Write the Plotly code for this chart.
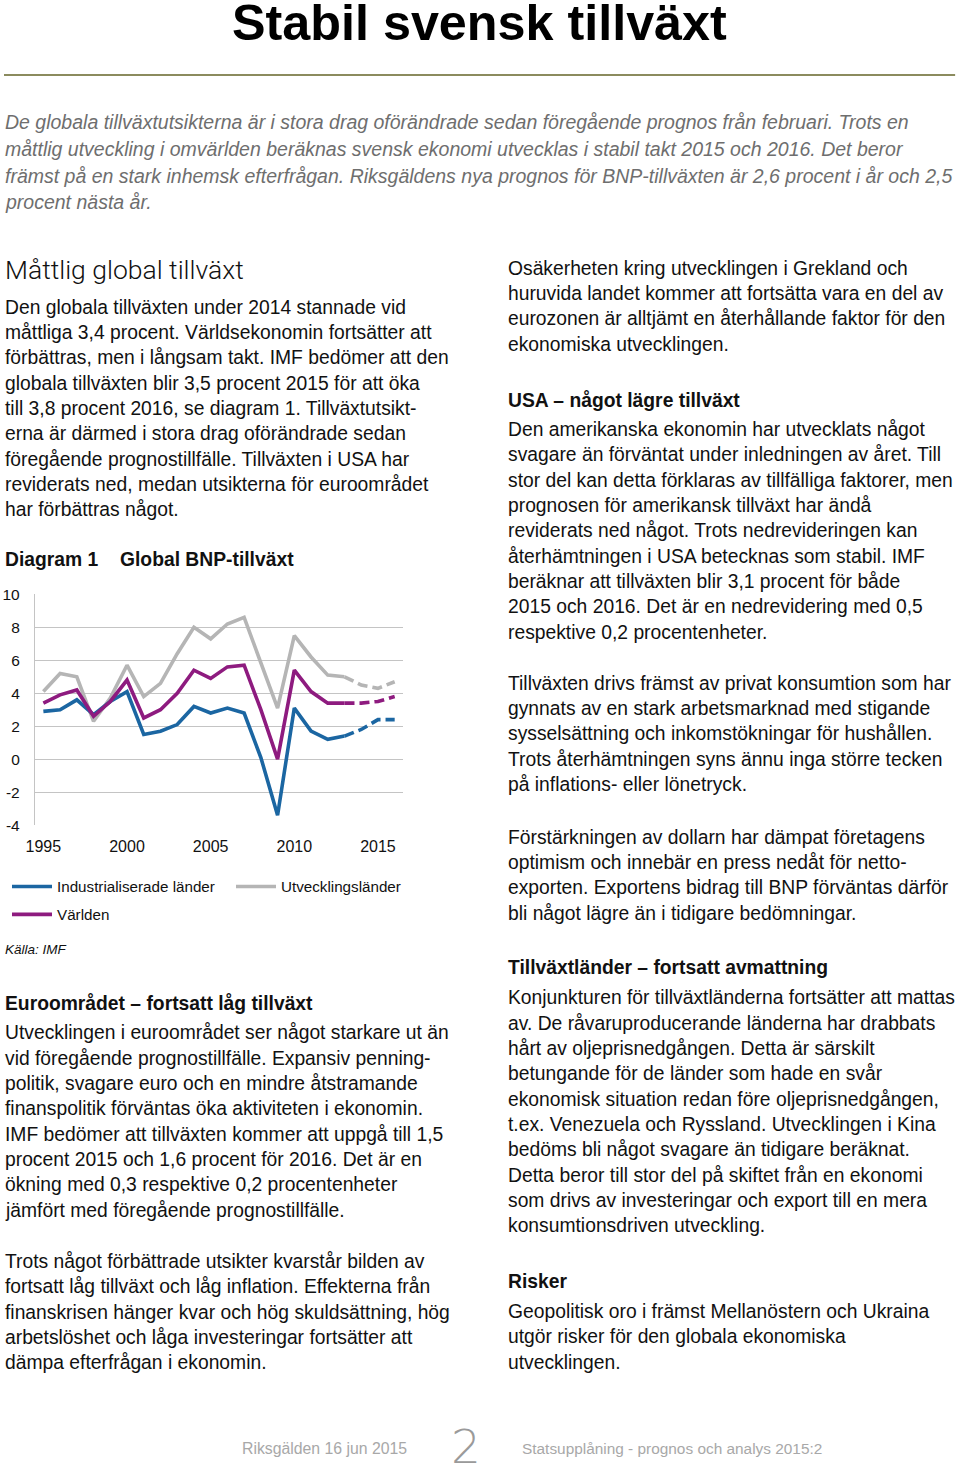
import plotly.graph_objects as go

# ---------------- data ----------------
years = [1995, 1996, 1997, 1998, 1999, 2000, 2001, 2002, 2003, 2004, 2005,
         2006, 2007, 2008, 2009, 2010, 2011, 2012, 2013, 2014, 2015, 2016]
industrialiserade = [2.9, 3.0, 3.6, 2.7, 3.5, 4.1, 1.5, 1.7, 2.1, 3.2, 2.8,
                     3.1, 2.8, 0.1, -3.4, 3.1, 1.7, 1.2, 1.4, 1.8, 2.4, 2.4]
utvecklingslander = [4.1, 5.2, 5.0, 2.3, 3.7, 5.7, 3.8, 4.6, 6.4, 8.0, 7.3,
                     8.2, 8.6, 5.9, 3.1, 7.5, 6.2, 5.1, 5.0, 4.5, 4.3, 4.7]
varlden = [3.4, 3.9, 4.2, 2.6, 3.5, 4.8, 2.5, 3.0, 4.0, 5.4, 4.9,
           5.6, 5.7, 3.0, 0.0, 5.4, 4.1, 3.4, 3.4, 3.4, 3.5, 3.8]
forecast_from = 2013
x_ticks = [1995, 2000, 2005, 2010, 2015]
y_ticks = [-4, -2, 0, 2, 4, 6, 8, 10]

series_names = ["Industrialiserade länder", "Utvecklingsländer", "Världen"]

title_text = "Stabil svensk tillväxt"
intro_lines = [
    "De globala tillväxtutsikterna är i stora drag oförändrade sedan föregående prognos från februari. Trots en",
    "måttlig utveckling i omvärlden beräknas svensk ekonomi utvecklas i stabil takt 2015 och 2016. Det beror",
    "främst på en stark inhemsk efterfrågan. Riksgäldens nya prognos för BNP-tillväxten är 2,6 procent i år och 2,5",
    "procent nästa år.",
]
left_heading = "Måttlig global tillväxt"
left_p1 = [
    "Den globala tillväxten under 2014 stannade vid",
    "måttliga 3,4 procent. Världsekonomin fortsätter att",
    "förbättras, men i långsam takt. IMF bedömer att den",
    "globala tillväxten blir 3,5 procent 2015 för att öka",
    "till 3,8 procent 2016, se diagram 1. Tillväxtutsikt-",
    "erna är därmed i stora drag oförändrade sedan",
    "föregående prognostillfälle. Tillväxten i USA har",
    "reviderats ned, medan utsikterna för euroområdet",
    "har förbättras något.",
]
diagram_label = "Diagram 1"
diagram_title = "Global BNP-tillväxt"
source_text = "Källa: IMF"
euro_heading = "Euroområdet – fortsatt låg tillväxt"
euro_p1 = [
    "Utvecklingen i euroområdet ser något starkare ut än",
    "vid föregående prognostillfälle. Expansiv penning-",
    "politik, svagare euro och en mindre åtstramande",
    "finanspolitik förväntas öka aktiviteten i ekonomin.",
    "IMF bedömer att tillväxten kommer att uppgå till 1,5",
    "procent 2015 och 1,6 procent för 2016. Det är en",
    "ökning med 0,3 respektive 0,2 procentenheter",
    "jämfört med föregående prognostillfälle.",
]
euro_p2 = [
    "Trots något förbättrade utsikter kvarstår bilden av",
    "fortsatt låg tillväxt och låg inflation. Effekterna från",
    "finanskrisen hänger kvar och hög skuldsättning, hög",
    "arbetslöshet och låga investeringar fortsätter att",
    "dämpa efterfrågan i ekonomin.",
]
right_p0 = [
    "Osäkerheten kring utvecklingen i Grekland och",
    "huruvida landet kommer att fortsätta vara en del av",
    "eurozonen är alltjämt en återhållande faktor för den",
    "ekonomiska utvecklingen.",
]
usa_heading = "USA – något lägre tillväxt"
usa_p1 = [
    "Den amerikanska ekonomin har utvecklats något",
    "svagare än förväntat under inledningen av året. Till",
    "stor del kan detta förklaras av tillfälliga faktorer, men",
    "prognosen för amerikansk tillväxt har ändå",
    "reviderats ned något. Trots nedrevideringen kan",
    "återhämtningen i USA betecknas som stabil. IMF",
    "beräknar att tillväxten blir 3,1 procent för både",
    "2015 och 2016. Det är en nedrevidering med 0,5",
    "respektive 0,2 procentenheter.",
]
usa_p2 = [
    "Tillväxten drivs främst av privat konsumtion som har",
    "gynnats av en stark arbetsmarknad med stigande",
    "sysselsättning och inkomstökningar för hushållen.",
    "Trots återhämtningen syns ännu inga större tecken",
    "på inflations- eller lönetryck.",
]
usa_p3 = [
    "Förstärkningen av dollarn har dämpat företagens",
    "optimism och innebär en press nedåt för netto-",
    "exporten. Exportens bidrag till BNP förväntas därför",
    "bli något lägre än i tidigare bedömningar.",
]
em_heading = "Tillväxtländer – fortsatt avmattning"
em_p1 = [
    "Konjunkturen för tillväxtländerna fortsätter att mattas",
    "av. De råvaruproducerande länderna har drabbats",
    "hårt av oljeprisnedgången. Detta är särskilt",
    "betungande för de länder som hade en svår",
    "ekonomisk situation redan före oljeprisnedgången,",
    "t.ex. Venezuela och Ryssland. Utvecklingen i Kina",
    "bedöms bli något svagare än tidigare beräknat.",
    "Detta beror till stor del på skiftet från en ekonomi",
    "som drivs av investeringar och export till en mera",
    "konsumtionsdriven utveckling.",
]
risk_heading = "Risker"
risk_p1 = [
    "Geopolitisk oro i främst Mellanöstern och Ukraina",
    "utgör risker för den globala ekonomiska",
    "utvecklingen.",
]
footer_left = "Riksgälden 16 jun 2015"
footer_page = "2"
footer_right = "Statsupplåning - prognos och analys 2015:2"

# ---------------- layout helpers ----------------
W, H = 960, 1466
# empirical page mapping of the photographed output (offset + slight scale)
OX, OY, SX, SY = 9.0, 9.0, 0.9905, 0.9895


def fx(X):
    return (X - OX) / SX / W


def fy(Y):
    return 1 - (Y - OY) / SY / H


BODY = "Liberation Sans, Arial, sans-serif"
BODY_SIZE = 19.3
BLACK = "#111111"

COL_BLUE = "#1b66a2"
COL_GRAY = "#b5b5b5"
COL_PURPLE = "#8e1b7f"

annotations = []


def text(X, Y, s, size=BODY_SIZE, color=BLACK, family=BODY, xanchor="left",
         bold=False, italic=False, weight=None):
    t = s
    if bold:
        t = "<b>" + t + "</b>"
    if italic:
        t = "<i>" + t + "</i>"
    f = dict(size=size, color=color, family=family)
    if weight is not None:
        f["weight"] = weight
    annotations.append(dict(x=fx(X), y=fy(Y), xref="paper", yref="paper",
                            text=t, showarrow=False, xanchor=xanchor,
                            yanchor="middle", font=f, borderpad=0))


def paragraph(X, Y0, lines, **kw):
    for i, s in enumerate(lines):
        text(X, Y0 + i * 25.35, s, **kw)


# ---------------- figure ----------------
fig = go.Figure()

i0 = years.index(forecast_from)
specs = [(series_names[1], utvecklingslander, COL_GRAY, "legend", 2),
         (series_names[0], industrialiserade, COL_BLUE, "legend", 1),
         (series_names[2], varlden, COL_PURPLE, "legend2", 3)]
for name, vals, col, lg, rank in specs:
    fig.add_trace(go.Scatter(x=years[:i0 + 1], y=vals[:i0 + 1], mode="lines",
                             name=name, legend=lg, legendrank=rank,
                             line=dict(color=col, width=3.6)))
    fig.add_trace(go.Scatter(x=years[i0:], y=vals[i0:], mode="lines",
                             name=name, showlegend=False,
                             line=dict(color=col, width=3.6, dash="10px,5px")))

LX0, LX1 = 35, 403
TY, BY = 595, 826

fig.update_layout(
    width=W, height=H,
    margin=dict(l=0, r=0, t=0, b=0),
    paper_bgcolor="white", plot_bgcolor="white",
    showlegend=True,
    xaxis=dict(domain=[fx(LX0), fx(LX1)], range=[1994.5, 2016.5],
               tickvals=x_ticks, showgrid=False, zeroline=False,
               showline=False, ticks="",
               tickfont=dict(family=BODY, size=16, color=BLACK),
               ticklabelstandoff=10),
    yaxis=dict(domain=[fy(BY), fy(TY)], range=[-4, 10], tickvals=y_ticks,
               ticktext=[str(v) for v in y_ticks],
               showgrid=True, gridcolor="#c4c4c4", gridwidth=1.3,
               zeroline=False, showline=True, linecolor="#c4c4c4",
               linewidth=1.3, ticks="",
               tickfont=dict(family=BODY, size=15.5, color=BLACK),
               ticklabelstandoff=11),
    legend=dict(orientation="h", x=fx(7), y=fy(871), xanchor="left",
                yanchor="top", itemwidth=40, entrywidth=169,
                font=dict(family=BODY, size=15.2, color=BLACK),
                traceorder="normal", bgcolor="rgba(0,0,0,0)",
                itemclick=False),
    legend2=dict(orientation="h", x=fx(7), y=fy(899), xanchor="left",
                 yanchor="top", itemwidth=40,
                 font=dict(family=BODY, size=15.2, color=BLACK),
                 bgcolor="rgba(0,0,0,0)", itemclick=False),
)

# title and rule
text(479, 23, title_text, size=50.3, bold=True, xanchor="center", color="#000000")
fig.add_shape(type="line", xref="paper", yref="paper", x0=fx(4), x1=fx(955),
              y0=fy(75), y1=fy(75), line=dict(color="#8b8b5e", width=2))

# intro
for i, s in enumerate(intro_lines):
    text(4, 122.5 + i * 26.7, s, size=19.5, italic=True, color="#6e6e6e")

# left column
text(4, 270, left_heading, size=26.5, family="Roboto, sans-serif", weight=300, color=BLACK)
paragraph(4, 307.5, left_p1)
text(4, 560, diagram_label, bold=True)
text(119, 560, diagram_title, bold=True)
text(4, 951, source_text, size=13.5, italic=True)
text(4, 1004, euro_heading, bold=True)
paragraph(4, 1034, euro_p1)
paragraph(4, 1263, euro_p2)

# right column
RX = 507
paragraph(RX, 268.5, right_p0)
text(RX, 400, usa_heading, bold=True)
paragraph(RX, 430, usa_p1)
paragraph(RX, 684, usa_p2)
paragraph(RX, 838, usa_p3)
text(RX, 969, em_heading, bold=True)
paragraph(RX, 999, em_p1)
text(RX, 1283, risk_heading, bold=True)
paragraph(RX, 1313, risk_p1)

# footer
text(241, 1450, footer_left, size=15.8, color="#a8a8a8")
text(466, 1448, footer_page, size=47, family="DejaVu Sans, sans-serif", weight=200,
     color="#9a9a9a", xanchor="center")
text(521, 1450, footer_right, size=15.4, color="#a8a8a8")

fig.update_layout(annotations=annotations)

fix_js = (
    "document.documentElement.style.margin='0';"
    "document.documentElement.style.padding='0';"
    "document.documentElement.style.overflow='hidden';"
    "document.body.style.margin='0';"
    "document.body.style.padding='0';"
    "document.body.style.overflow='hidden';"
    "var gd=document.querySelector('.plotly-graph-div');"
    "gd.style.position='fixed';gd.style.left='0px';gd.style.top='0px';"
)
fig.write_html("out.html", config={"displayModeBar": False}, post_script=fix_js)
